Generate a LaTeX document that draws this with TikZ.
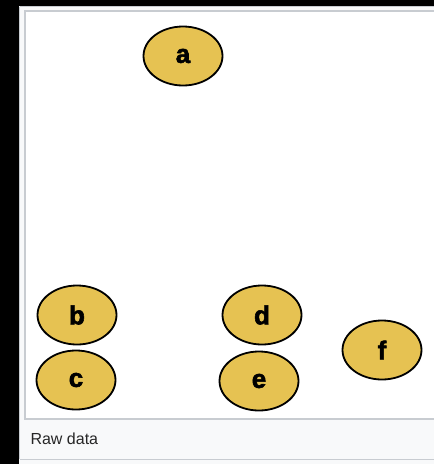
\documentclass[tikz,border=0pt]{standalone}
\usepackage{fontspec}
\setmainfont{Liberation Sans}
\newfontfamily\heavyfont{Liberation Sans}[BoldFeatures={FakeBold=2.2}]
\usetikzlibrary{shapes.geometric}
\definecolor{gold}{HTML}{E6C252}
\definecolor{panel}{HTML}{F8F9FA}
\definecolor{rim}{HTML}{C8CCD1}
\tikzset{
  vert/.style={ellipse, draw=black, line width=1.8pt, fill=gold, minimum width=79pt, minimum height=59pt, inner sep=0pt, font=\heavyfont\bfseries\fontsize{26}{26}\selectfont},
}
\begin{document}
\begin{tikzpicture}[x=1pt,y=-1pt]
\useasboundingbox (0,0) rectangle (434,464);
\fill[black] (0,0) rectangle (434,464);
\fill[panel] (19,6) rectangle (440,464);
\draw[rim, line width=1pt] (19.5,6.5) -- (440,6.5);
\draw[rim, line width=1pt] (19.5,6.5) -- (19.5,459);
\draw[rim, line width=1.2pt] (19.5,459.5) -- (440,459.5);
\draw[rim, line width=1.5pt, fill=white] (25,11) rectangle (445,419);
\node[vert] (a) at (183,56) {a};
\node[vert] (b) at (77,315) {b};
\node[vert] (c) at (76,380) {c};
\node[vert] (d) at (262,315) {d};
\node[vert] (e) at (259,381) {e};
\node[vert] (f) at (382,350) {f};
\node[anchor=west, font=\fontsize{16}{16}\selectfont, text=black!85] (cap) at (27,439) {Raw data};
\end{tikzpicture}
\end{document}
